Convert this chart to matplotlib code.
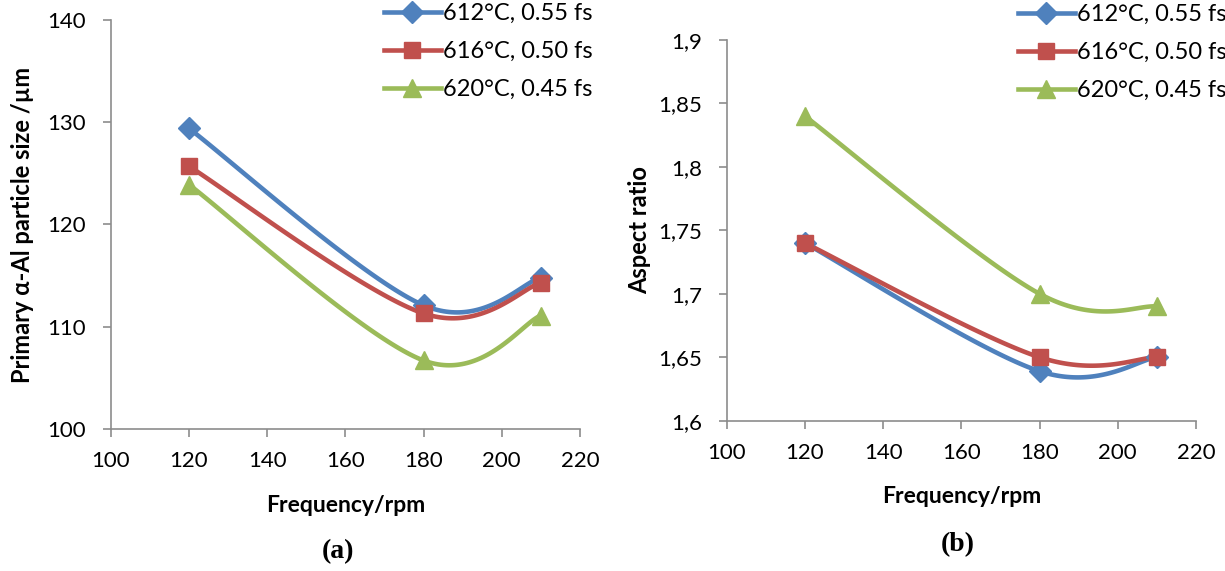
import numpy as np
import matplotlib.pyplot as plt
from matplotlib.ticker import FuncFormatter

plt.rcParams['font.family'] = ['Lato', 'DejaVu Sans']

# data
freq = [120, 180, 210]
labels = ["612°C, 0.55 fs", "616°C, 0.50 fs", "620°C, 0.45 fs"]
size_612 = [129.4, 112.1, 114.8]
size_616 = [125.7, 111.3, 114.3]
size_620 = [123.9, 106.7, 111.1]
ar_612 = [1.74, 1.639, 1.65]
ar_616 = [1.74, 1.65, 1.65]
ar_620 = [1.84, 1.70, 1.69]

colors = ["#4F81BD", "#C0504D", "#9BBB59"]
markers = ["D", "s", "^"]
msizes = [11, 12, 12.5]
axis_gray = "#8C8C8C"


def smooth(x, y, xlim, ylim, aspect, n=60):
    # excel-like bezier smoothing done in (roughly) pixel space
    px = (np.asarray(x, float) - xlim[0]) / (xlim[1] - xlim[0])
    py = (np.asarray(y, float) - ylim[0]) / (ylim[1] - ylim[0]) * aspect
    pts = np.column_stack([px, py])
    out = []
    for i in range(len(pts) - 1):
        p0 = pts[i - 1] if i > 0 else pts[i]
        p1 = pts[i]
        p2 = pts[i + 1]
        p3 = pts[i + 2] if i + 2 < len(pts) else pts[i + 1]
        c1 = p1 + (p2 - p0) / 6
        c2 = p2 - (p3 - p1) / 6
        t = np.linspace(0, 1, n)[:, None]
        seg = ((1 - t) ** 3 * p1 + 3 * (1 - t) ** 2 * t * c1
               + 3 * (1 - t) * t ** 2 * c2 + t ** 3 * p2)
        out.append(seg)
    out = np.vstack(out)
    xs = out[:, 0] * (xlim[1] - xlim[0]) + xlim[0]
    ys = out[:, 1] / aspect * (ylim[1] - ylim[0]) + ylim[0]
    return xs, ys


def style_axes(ax, ypad):
    for s in ["top", "right"]:
        ax.spines[s].set_visible(False)
    for s in ["left", "bottom"]:
        ax.spines[s].set_color(axis_gray)
        ax.spines[s].set_linewidth(1.2)
    ax.tick_params(direction="out", length=6, width=1.2, color=axis_gray,
                   labelsize=16)
    ax.tick_params(axis="x", pad=10)
    ax.tick_params(axis="y", pad=ypad)


W, H = 1225, 571
fig = plt.figure(figsize=(W / 100, H / 100), dpi=100)
# axes boxes measured in pixels: left, top, right, bottom
ax1 = fig.add_axes([110.7 / W, 1 - 429 / H, (580 - 110.7) / W, (429 - 20) / H])
ax2 = fig.add_axes([726.7 / W, 1 - 420.7 / H, (1196 - 726.7) / W, (420.7 - 40) / H])

xlim = (100, 220)
ylim1 = (100, 140)
ylim2 = (1.6, 1.9)

for ax, series, ylim, asp in [(ax1, [size_612, size_616, size_620], ylim1, 409 / 469),
                              (ax2, [ar_612, ar_616, ar_620], ylim2, 381 / 469)]:
    for vals, c, m, ms, lab in zip(series, colors, markers, msizes, labels):
        xs, ys = smooth(freq, vals, xlim, ylim, asp)
        ax.plot(xs, ys, color=c, lw=3.3, solid_capstyle="round", zorder=2)
        ax.plot(freq, vals, ls="none", marker=m, ms=ms, color=c, zorder=3)
        ax.plot([], [], color=c, lw=3.3, marker=m, ms=ms, label=lab)
    ax.set_xlim(*xlim)
    ax.set_ylim(*ylim)
    ax.set_xticks(range(100, 221, 20))
    ax.set_xlabel("Frequency/rpm", fontsize=16.5, fontweight="bold", va="center")

ax1.set_yticks(range(100, 141, 10))
style_axes(ax1, 12)
ax1.set_ylabel("Primary α-Al particle size /µm", fontsize=17, fontweight="bold",
               va="center")
ax1.xaxis.set_label_coords(0.5, -0.186)
ax1.yaxis.set_label_coords(-0.187, 0.5)

ax2.set_yticks(np.arange(1.6, 1.901, 0.05))
ax2.yaxis.set_major_formatter(FuncFormatter(lambda v, p: f"{v:g}".replace(".", ",")))
style_axes(ax2, 11.5)
ax2.set_ylabel("Aspect ratio", fontsize=17, fontweight="bold", va="center")
ax2.xaxis.set_label_coords(0.5, -0.2)
ax2.yaxis.set_label_coords(-0.185, 0.5)

leg_kw = dict(loc="upper left", frameon=False, fontsize=17, handlelength=2.4,
              handletextpad=0.1, labelspacing=0.72, borderaxespad=0, borderpad=0)
ax1.legend(bbox_to_anchor=(384 / W, 1 - 3 / H), bbox_transform=fig.transFigure, **leg_kw)
ax2.legend(bbox_to_anchor=(1018 / W, 1 - 4 / H), bbox_transform=fig.transFigure, **leg_kw)

fig.text(338 / W, 1 - 552 / H, "(a)", family="Liberation Serif", fontweight="bold",
         fontsize=20, ha="center", va="center")
fig.text(958 / W, 1 - 545 / H, "(b)", family="Liberation Serif", fontweight="bold",
         fontsize=20, ha="center", va="center")

fig.savefig("out.png", dpi=100)
